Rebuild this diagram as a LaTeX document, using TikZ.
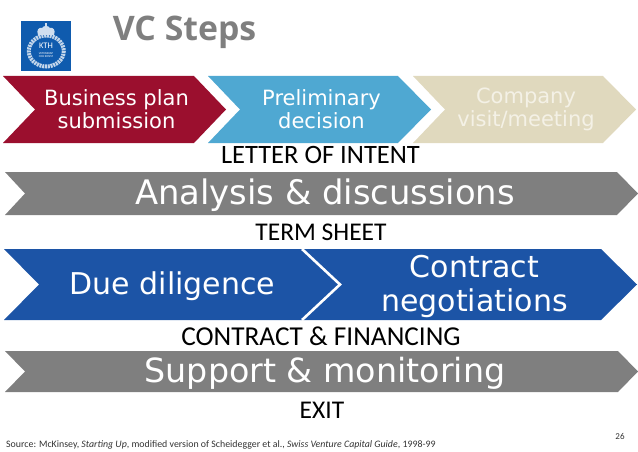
\documentclass[tikz,border=0pt]{standalone}
\usepackage{fontspec}
\setmainfont{Carlito}
\newfontfamily\chevfont{DejaVu Sans}
\newfontfamily\titlefont{Open Sans}
\definecolor{kred}{HTML}{9B0F2E}
\definecolor{kblue}{HTML}{4FA8D2}
\definecolor{kbeige}{HTML}{E0D9BE}
\definecolor{kgrey}{HTML}{7F7F7F}
\definecolor{kdeep}{HTML}{1C54A6}
\definecolor{klogo}{HTML}{0F5BAE}
\definecolor{kbtext}{HTML}{F4F1E6}
\tikzset{
  x=1pt,y=-1pt,
  chevtext/.style={text=white,align=center,inner sep=0pt},
  toptext/.style={chevtext,font=\chevfont\fontsize{21}{23}\selectfont},
  bigtext/.style={chevtext,font=\chevfont\fontsize{33.8}{36}\selectfont},
  midtext/.style={chevtext,font=\chevfont\fontsize{30}{34}\selectfont},
  stage/.style={font=\fontsize{25.5}{28}\selectfont,text=black,inner sep=0pt},
}
% colour, left x, notch x, shoulder x, tip x, top y, bottom y
\newcommand{\chev}[7]{\fill[#1] (#2,#6) -- (#4,#6) -- (#5,{(#6+#7)/2}) -- (#4,#7) -- (#2,#7) -- (#3,{(#6+#7)/2}) -- cycle;}
\begin{document}
\begin{tikzpicture}
\useasboundingbox (0,0) rectangle (638,452);
% logo
\fill[klogo] (21,21) rectangle (71,71);
\draw[white!75!klogo,line width=4pt,dash pattern=on 2pt off 0.8pt] (46.3,51) ellipse (17.5 and 15.5);
\fill[white!80!klogo] (38,35) .. controls (36,30) and (39,27) .. (42,28) .. controls (43,26.5) and (44.5,26) .. (46,26) .. controls (47.5,26) and (49,26.5) .. (50,28) .. controls (53,27) and (56,30) .. (54,35) -- cycle;
\fill[white!80!klogo] (45,26.5) rectangle (47,23);
\node[font=\fontsize{8.5}{8.5}\selectfont,text=white,inner sep=0pt] (kth) at (46,46) {KTH};
\node[font=\fontsize{3}{3.2}\selectfont,text=white,inner sep=0pt,align=center] (kthsub) at (46,55) {VETENSKAP\\OCH KONST};
\node[font=\titlefont\bfseries\fontsize{33.8}{36}\selectfont,text=kgrey,inner sep=0pt] (title) at (184.5,32) {VC Steps};
% row 1
\chev{kred}{3}{35}{194}{226}{76}{143}
\chev{kblue}{208}{240}{398}{431}{76}{143}
\chev{kbeige}{413}{445}{603}{636}{76}{143}
\node[toptext] (bp) at (116.5,109) {Business plan\\submission};
\node[toptext] (pd) at (321.5,109) {Preliminary\\decision};
\node[toptext,text=kbtext] (cv) at (526,109) {Company\\visit/meeting};
\node[stage,font=\fontsize{26.5}{28}\selectfont] (loi) at (320.5,155) {LETTER OF INTENT};
% row 2
\chev{kgrey}{5}{25}{617}{638}{172}{215}
\node[bigtext] (ad) at (325,195) {Analysis \& discussions};
\node[stage] (ts) at (321,232) {TERM SHEET};
% row 3
\chev{kdeep}{4}{39}{601}{637}{249}{320}
\draw[white,line width=2.6pt] (302,249) -- (340,284.5) -- (302,320);
\node[chevtext,font=\chevfont\fontsize{30}{33}\selectfont] (dd) at (172.5,286) {Due diligence};
\node[midtext] (cn) at (474.5,286) {Contract\\negotiations};
\node[stage,font=\fontsize{27.3}{30}\selectfont] (cf) at (321,336) {CONTRACT \& FINANCING};
% row 4
\chev{kgrey}{5}{25}{618}{638}{351}{392}
\node[bigtext,font=\chevfont\fontsize{33.3}{36}\selectfont] (sm) at (325,373) {Support \& monitoring};
\node[stage] (exit) at (322,410) {EXIT};
\node[font=\fontsize{9.87}{11}\selectfont,text=black!80,anchor=west,inner sep=0pt] (src) at (6,445) {Source: McKinsey, \textit{Starting Up}, modified version of Scheidegger et al., \textit{Swiss Venture Capital Guide}, 1998-99};
\node[font=\fontsize{9}{11}\selectfont,text=black!80,inner sep=0pt] (pg) at (620,436) {26};
\end{tikzpicture}
\end{document}
